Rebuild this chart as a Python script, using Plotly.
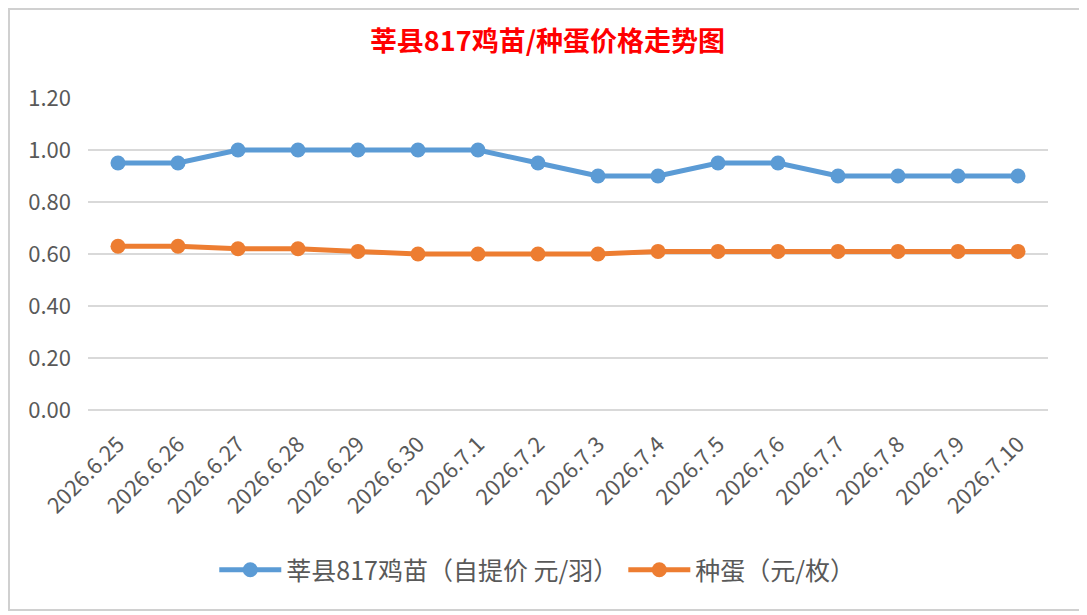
import plotly.graph_objects as go

# 日期与价格
dates = ['2026.6.25', '2026.6.26', '2026.6.27', '2026.6.28', '2026.6.29', '2026.6.30',
         '2026.7.1', '2026.7.2', '2026.7.3', '2026.7.4', '2026.7.5', '2026.7.6',
         '2026.7.7', '2026.7.8', '2026.7.9', '2026.7.10']
chick_price = [0.95, 0.95, 1.00, 1.00, 1.00, 1.00, 1.00, 0.95, 0.90, 0.90, 0.95, 0.95,
               0.90, 0.90, 0.90, 0.90]
egg_price = [0.63, 0.63, 0.62, 0.62, 0.61, 0.60, 0.60, 0.60, 0.60, 0.61, 0.61, 0.61,
             0.61, 0.61, 0.61, 0.61]
y_ticks = [0, 0.2, 0.4, 0.6, 0.8, 1.0, 1.2]

font_cn = "Liberation Sans Narrow, Noto Sans CJK SC, sans-serif"

fig = go.Figure()
fig.add_trace(go.Scatter(
    x=dates, y=chick_price, mode='lines+markers',
    name='莘县817鸡苗（自提价 元/羽）',
    line=dict(color='#5B9BD5', width=5),
    marker=dict(size=15, color='#5B9BD5'),
))
fig.add_trace(go.Scatter(
    x=dates, y=egg_price, mode='lines+markers',
    name='种蛋（元/枚）',
    line=dict(color='#ED7D31', width=5),
    marker=dict(size=15, color='#ED7D31'),
))

# 页面 body 有 8px 边距, 所以图宽高各减 8
fig.update_layout(
    width=1079, height=607,
    margin=dict(l=80, r=39, t=90, b=205),
    paper_bgcolor='white', plot_bgcolor='white',
    title=dict(text='<b>莘县817鸡苗/种蛋价格走势图</b>', x=0.5, xanchor='center',
               y=0.944, yanchor='middle',
               font=dict(family='Noto Sans CJK SC, sans-serif', size=27, color='#FF0000')),
    showlegend=True,
    legend=dict(orientation='h', x=0.468, xanchor='center', y=-0.513, yanchor='middle',
                font=dict(family=font_cn, size=25, color='#595959'), itemwidth=62),
    shapes=[dict(type='rect', xref='paper', yref='paper',
                 x0=-0.0823, x1=1.0365, y0=-0.641, y1=1.285,
                 line=dict(color='#D0D0D0', width=2), fillcolor='rgba(0,0,0,0)', layer='below')],
)

fig.update_xaxes(type='category', range=[-0.5, 15.5], tickangle=-45, showgrid=False,
                 showline=False, ticks='', ticklabelstandoff=16,
                 tickfont=dict(family=font_cn, size=22, color='#595959'))
fig.update_yaxes(range=[0, 1.2], tickvals=y_ticks, tickformat='.2f', showgrid=True,
                 gridcolor='#D9D9D9', gridwidth=1.5, zeroline=True, zerolinecolor='#D9D9D9',
                 zerolinewidth=1.5, showline=False, ticks='', ticklabelstandoff=16,
                 tickfont=dict(family=font_cn, size=22, color='#595959'))

fig.write_html("out.html")
